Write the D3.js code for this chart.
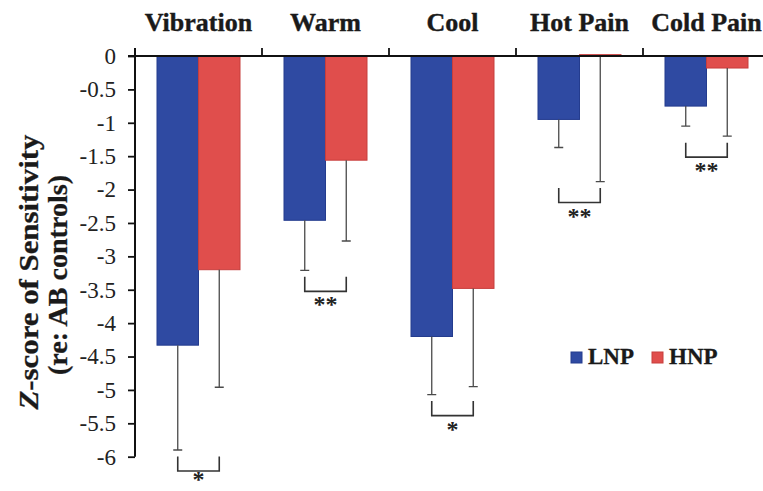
<!DOCTYPE html>
<html>
<head>
<meta charset="utf-8">
<script src="https://cdn.jsdelivr.net/npm/d3@7"></script>
<style>
  body { margin: 0; background: #fff; }
  svg text { font-family: "Liberation Serif", "Times New Roman", Times, serif; }
</style>
</head>
<body>
<div id="chart"></div>
<script>
// data
const categories = ["Vibration", "Warm", "Cool", "Hot Pain", "Cold Pain"];
const groups = ["LNP", "HNP"];
const lnpValues = [-4.33, -2.46, -4.2, -0.95, -0.75];
const hnpValues = [-3.2, -1.56, -3.48, 0.02, -0.18];
// lower end of the (one-sided) error bars
const lnpErrEnd = [-5.9, -3.21, -5.07, -1.37, -1.05];
const hnpErrEnd = [-4.96, -2.77, -4.95, -1.88, -1.2];
const sigLabels = ["*", "**", "*", "**", "**"];
const yTicks = [0, -0.5, -1, -1.5, -2, -2.5, -3, -3.5, -4, -4.5, -5, -5.5, -6];

const width = 763, height = 491;
const serif = '"Liberation Serif", "Times New Roman", Times, serif';
const colors = { LNP: "#2f4aa2", HNP: "#e04e4c" };
const strokes = { LNP: "#243c8e", HNP: "#c73e3d" };

let svg = d3.select("#chart")
  .append("svg")
  .attr("width", width)
  .attr("height", height)
  .style("font-family", serif);

let x = d3.scaleBand()
  .domain(categories)
  .range([135, 770])
  .padding(0);

let xSub = d3.scaleBand()
  .domain(groups)
  .range([0, x.bandwidth()])
  .paddingInner(0)
  .paddingOuter(0.53);

let y = d3.scaleLinear()
  .domain([0, -6])
  .range([56, 456.7]);

let data = categories.map((c, i) => ({
  cat: c,
  sig: sigLabels[i],
  bars: [
    { key: "LNP", value: lnpValues[i], err: lnpErrEnd[i] },
    { key: "HNP", value: hnpValues[i], err: hnpErrEnd[i] }
  ]
}));

// bars
let catGroups = svg.selectAll(".cat")
  .data(data)
  .enter()
  .append("g")
  .attr("class", "cat")
  .attr("transform", d => `translate(${x(d.cat)},0)`);

catGroups.selectAll("rect")
  .data(d => d.bars)
  .enter()
  .append("rect")
  .attr("x", d => xSub(d.key))
  .attr("y", d => y(Math.max(0, d.value)))
  .attr("width", xSub.bandwidth())
  .attr("height", d => Math.max(1, Math.abs(y(d.value) - y(0))))
  .attr("fill", d => colors[d.key])
  .attr("stroke", d => strokes[d.key])
  .attr("stroke-width", 1);

// error bars (downward only)
let capW = 4.5;
catGroups.selectAll(".err")
  .data(d => d.bars)
  .enter()
  .append("path")
  .attr("class", "err")
  .attr("fill", "none")
  .attr("stroke", "#4a4a4a")
  .attr("stroke-width", 1.3)
  .attr("d", d => {
    let cx = xSub(d.key) + xSub.bandwidth() / 2;
    let y0 = y(Math.min(0, d.value));
    let y1 = y(d.err);
    return `M${cx},${y0}V${y1}M${cx - capW},${y1}H${cx + capW}`;
  });

// significance brackets
catGroups.append("path")
  .attr("fill", "none")
  .attr("stroke", "#333")
  .attr("stroke-width", 1.6)
  .attr("d", d => {
    let x1 = xSub("LNP") + xSub.bandwidth() / 2;
    let x2 = xSub("HNP") + xSub.bandwidth() / 2;
    let top = y(d3.min(d.bars, b => b.err)) + 6.5;
    let bot = top + 14.5;
    return `M${x1},${top}V${bot}H${x2}V${top}`;
  });

catGroups.append("text")
  .attr("x", x.bandwidth() / 2)
  .attr("y", d => Math.min(y(d3.min(d.bars, b => b.err)) + 42, 487))
  .attr("text-anchor", "middle")
  .attr("font-size", 24)
  .attr("font-weight", "bold")
  .attr("fill", "#222")
  .text(d => d.sig);

// y axis
let yAxis = d3.axisLeft(y)
  .tickValues(yTicks)
  .tickFormat(d => String(d))
  .tickSize(7)
  .tickPadding(12);

let yG = svg.append("g")
  .attr("transform", "translate(135,0)")
  .call(yAxis);
yG.select(".domain").remove();
yG.selectAll(".tick line").attr("stroke", "#111").attr("stroke-width", 1.8);
yG.selectAll(".tick text")
  .style("font-family", serif)
  .attr("font-size", 23)
  .attr("fill", "#222");

svg.append("line")
  .attr("x1", 135).attr("x2", 135)
  .attr("y1", 48).attr("y2", y(-6))
  .attr("stroke", "#111")
  .attr("stroke-width", 2);

// top category axis at zero
svg.append("line")
  .attr("x1", 128).attr("x2", width)
  .attr("y1", y(0)).attr("y2", y(0))
  .attr("stroke", "#111")
  .attr("stroke-width", 2);

svg.selectAll(".xtick")
  .data(categories.slice(1))
  .enter()
  .append("line")
  .attr("x1", d => x(d)).attr("x2", d => x(d))
  .attr("y1", y(0) - 8).attr("y2", y(0))
  .attr("stroke", "#111")
  .attr("stroke-width", 1.8);

svg.selectAll(".catLabel")
  .data(categories)
  .enter()
  .append("text")
  .attr("x", d => x(d) + x.bandwidth() / 2)
  .attr("y", 31)
  .attr("text-anchor", "middle")
  .attr("font-size", 26)
  .attr("font-weight", "bold")
  .attr("fill", "#1a1a1a")
  .attr("stroke", "#1a1a1a")
  .attr("stroke-width", 0.4)
  .text(d => d);

// y axis title
let yTitle = svg.append("text")
  .attr("transform", "translate(38,272) rotate(-90)")
  .attr("text-anchor", "middle")
  .attr("font-size", 27)
  .attr("font-weight", "bold")
  .attr("fill", "#1a1a1a")
  .attr("stroke", "#1a1a1a")
  .attr("stroke-width", 0.3)
  .attr("textLength", 275)
  .attr("lengthAdjust", "spacingAndGlyphs");
yTitle.append("tspan").attr("font-style", "italic").text("Z");
yTitle.append("tspan").text("-score  of Sensitivity");

svg.append("text")
  .attr("transform", "translate(67,275) rotate(-90)")
  .attr("text-anchor", "middle")
  .attr("font-size", 27)
  .attr("font-weight", "bold")
  .attr("fill", "#1a1a1a")
  .attr("stroke", "#1a1a1a")
  .attr("stroke-width", 0.3)
  .attr("textLength", 200)
  .attr("lengthAdjust", "spacingAndGlyphs")
  .text("(re: AB controls)");

// legend
let legend = svg.append("g")
  .selectAll("g")
  .data(groups)
  .enter()
  .append("g")
  .attr("transform", (d, i) => `translate(${571 + i * 81},352)`);

legend.append("rect")
  .attr("width", 11).attr("height", 11)
  .attr("fill", d => colors[d])
  .attr("stroke", d => strokes[d]);

legend.append("text")
  .attr("x", 17)
  .attr("y", 12)
  .attr("font-size", 23)
  .attr("font-weight", "bold")
  .attr("fill", "#1a1a1a")
  .attr("stroke", "#1a1a1a")
  .attr("stroke-width", 0.3)
  .text(d => d);
</script>
</body>
</html>
